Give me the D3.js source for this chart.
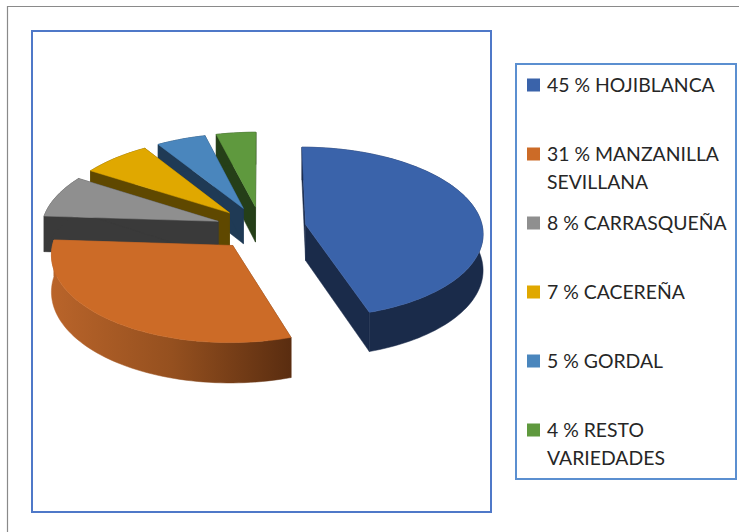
<!DOCTYPE html>
<html><head><meta charset="utf-8">
<script src="https://cdn.jsdelivr.net/npm/d3@7"></script>
<style>html,body{margin:0;padding:0;background:#fff}svg{display:block}text{font-family:Lato,"Open Sans",sans-serif}</style>
</head><body><svg id="c" width="739" height="532"></svg>
<script>
const values = [45,31,8,7,5,4];
const legendLines = [["45 % HOJIBLANCA"],["31 % MANZANILLA","SEVILLANA"],["8 % CARRASQUEÑA"],["7 % CACEREÑA"],["5 % GORDAL"],["4 % RESTO","VARIEDADES"]];
const topColors = ["#3a63aa","#cc6b27","#8f8f8f","#e0a800","#4a86bd","#5f993e"];
const sideColors = ["#1a2b4a","url(#og)","#3a3a3a","#5f4800","#1f3a55","#253f18"];
const svg = d3.select("#c");
const W=739,H=532;
svg.append("rect").attr("width",W).attr("height",H).attr("fill","#fff");
const defs=svg.append("defs");
const og=defs.append("linearGradient").attr("id","og").attr("gradientUnits","userSpaceOnUse").attr("x1",52).attr("x2",291).attr("y1",0).attr("y2",0);
og.append("stop").attr("offset",0).attr("stop-color","#b9642a");
og.append("stop").attr("offset",0.5).attr("stop-color","#95501f");
og.append("stop").attr("offset",1).attr("stop-color","#5a2d10");
// frames
svg.append("path").attr("d","M7.5,532V6.5H739").attr("fill","none").attr("stroke","#8a8a8a").attr("stroke-width",1.2);
svg.append("rect").attr("x",32).attr("y",31).attr("width",459).attr("height",481).attr("fill","none").attr("stroke","#4f78c8").attr("stroke-width",2);
svg.append("rect").attr("x",516).attr("y",64).attr("width",220).attr("height",415).attr("fill","none").attr("stroke","#5b8fd0").attr("stroke-width",2);
// 3D projection
const sxS=d3.scaleLinear().domain([0,1]).range([261,438]);
const syS=d3.scaleLinear().domain([0,1]).range([228,143]);
const persp=0.09, explode=0.256, depth=36;
const proj=(X,Y,z)=>{const w=1+persp*Y;return [sxS(X/w), syS(Y/w)+z*depth/w];};
const pie=d3.pie().sort(null)(values);
const line=d3.line();
const wedges=pie.map((d,i)=>{
  const a0=d.startAngle,a1=d.endAngle,m=(a0+a1)/2;
  const ox=explode*Math.sin(m),oy=explode*Math.cos(m);
  const n=Math.max(4,Math.ceil((a1-a0)/0.03));
  const arc=d3.range(n+1).map(k=>{const t=a0+(a1-a0)*k/n;return [ox+Math.sin(t),oy+Math.cos(t)];});
  return {i,ox,oy,arc};
});
const order=[5,4,3,2,1,0];
const poly=(pts,fill,stroke)=>svg.append("path").attr("d",line(pts)+"Z").attr("fill",fill).attr("stroke",stroke||fill).attr("stroke-width",0.5).attr("stroke-linejoin","round");
order.forEach(i=>{
  const w=wedges[i], side=sideColors[i], c=w.arc;
  const apex=[w.ox,w.oy];
  const face=(p)=>[proj(...apex,0),proj(...p,0),proj(...p,1),proj(...apex,1)];
  poly(face(c[0]),side);
  poly(face(c[c.length-1]),side);
  poly(c.map(p=>proj(...p,0)).concat(c.slice().reverse().map(p=>proj(...p,1))),side);
  poly([proj(...apex,0)].concat(c.map(p=>proj(...p,0))),topColors[i]);
});
// legend
const ys=[85,154,223,292,361,430];
const g=svg.append("g");
legendLines.forEach((ls,i)=>{
  g.append("rect").attr("x",527).attr("y",ys[i]-6.5).attr("width",13).attr("height",13).attr("fill",topColors[i]);
  ls.forEach((s,j)=>g.append("text").attr("x",547).attr("y",ys[i]+6.5+j*28.5).attr("font-size",19.4).attr("fill","#262626").text(s));
});
</script></body></html>
